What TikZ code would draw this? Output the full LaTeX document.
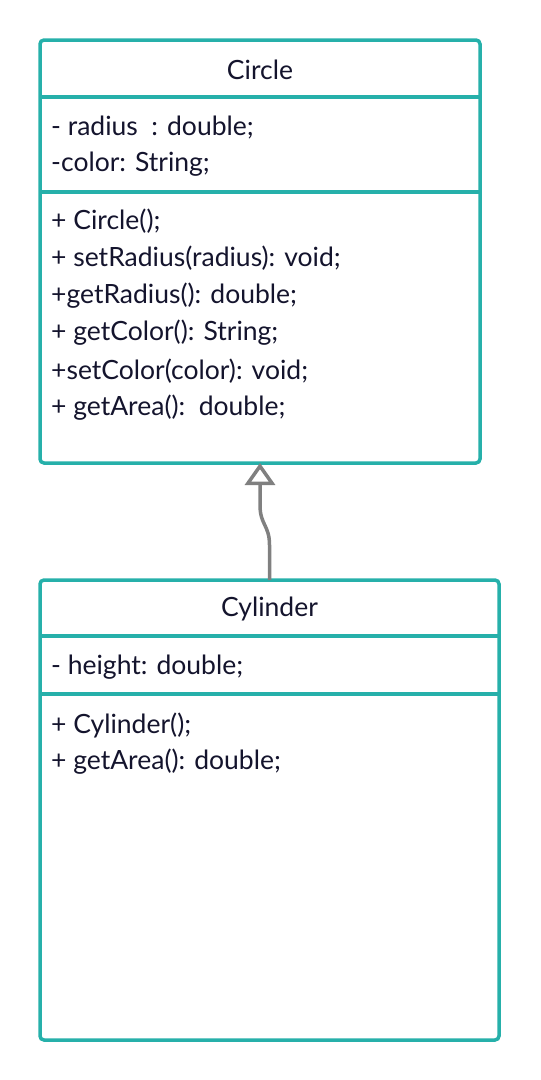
\documentclass[tikz,border=0pt]{standalone}
\usepackage{fontspec}
\setmainfont{Lato}
\usetikzlibrary{arrows.meta}
\definecolor{teal}{RGB}{38,176,170}
\definecolor{txt}{RGB}{20,20,45}
\definecolor{conn}{RGB}{128,128,128}
\tikzset{
  box/.style={draw=teal, line width=3.5pt, rounded corners=4pt, fill=white, inner sep=0pt, outer sep=0pt},
  divider/.style={draw=teal, line width=3.5pt},
  title/.style={text=txt, font=\fontsize{26.5}{30}\selectfont, anchor=center, inner sep=0pt},
  member/.style={text=txt, font=\fontsize{26.5}{30}\selectfont, anchor=west, inner sep=0pt},
  inherit/.style={draw=conn, line width=3.5pt, -{Triangle[open, length=22pt, width=30pt]}}
}
\begin{document}
\begin{tikzpicture}[x=1pt, y=-1pt]
\useasboundingbox (0,0) rectangle (541,1080);
% Circle class
\node[box, minimum width=440pt, minimum height=423pt, anchor=north west] (circ) at (40,40) {};
\coordinate (c1l) at (40,97); \coordinate (c1r) at (480,97);
\coordinate (c2l) at (40,192); \coordinate (c2r) at (480,192);
\draw[divider] (c1l) -- (c1r);
\draw[divider] (c2l) -- (c2r);
\node[title] (ctitle) at (260,70) {Circle};
\node[member] (ca1) at (51,128) {- radius\ \ : double;};
\node[member] (ca2) at (51,164) {-color: String;};
\node[member] (cm1) at (51,221) {+ Circle();};
\node[member] (cm2) at (51,258) {+ setRadius(radius): void;};
\node[member] (cm3) at (51,296) {+getRadius(): double;};
\node[member] (cm4) at (51,333) {+ getColor(): String;};
\node[member] (cm5) at (51,371) {+setColor(color): void;};
\node[member] (cm6) at (51,408) {+ getArea():\ \ double;};
% Cylinder class
\node[box, minimum width=459pt, minimum height=460pt, anchor=north west] (cyl) at (40,580) {};
\coordinate (y1l) at (40,636); \coordinate (y1r) at (499,636);
\coordinate (y2l) at (40,694); \coordinate (y2r) at (499,694);
\draw[divider] (y1l) -- (y1r);
\draw[divider] (y2l) -- (y2r);
\node[title] (ytitle) at (269.5,609) {Cylinder};
\node[member] (ya1) at (51,667) {- height: double;};
\node[member] (ym1) at (51,725) {+ Cylinder();};
\node[member] (ym2) at (51,762) {+ getArea(): double;};
% inheritance
\draw[inherit] (cyl.north) -- ++(0,-35) .. controls ++(0,-20) and (260,525) .. (260,505) -- (circ.south);
\end{tikzpicture}
\end{document}
